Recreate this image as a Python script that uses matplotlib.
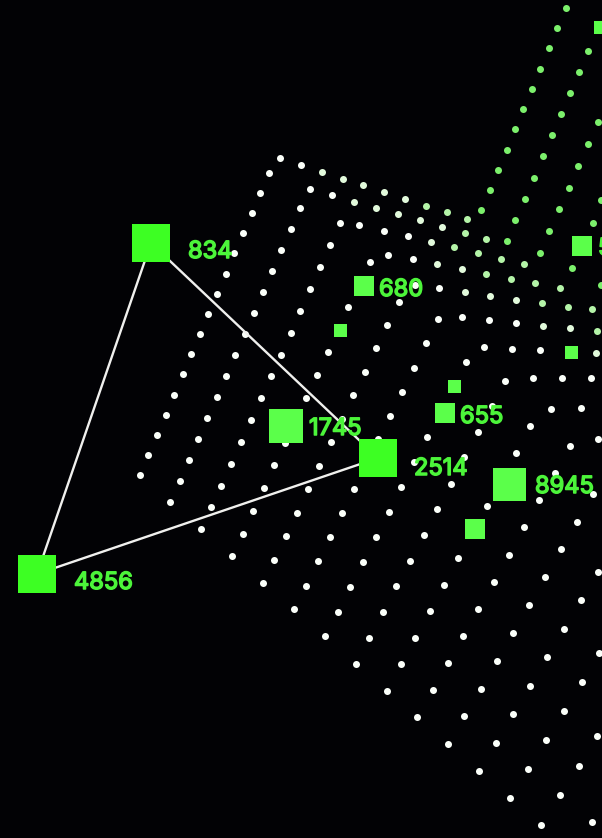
import matplotlib
matplotlib.use('Agg')
import matplotlib.pyplot as plt
import matplotlib.patheffects as pe

# node ids, positions and sizes (image pixels)
bright_x = [151, 37, 378]
bright_y = [243, 574, 458]
bright_side = [38, 38, 38]
soft_x = [286, 509.5, 364, 445, 582, 475, 454.5, 340.5, 571.5, 600.5]
soft_y = [425.5, 484.5, 286, 413, 246, 529, 386.5, 330.5, 352.5, 27.5]
soft_side = [34, 33, 20, 20, 20, 20, 13, 13, 13, 13]

edge_from = [0, 1, 2]
edge_to = [1, 2, 0]

label_text = ['834', '4856', '2514', '1745', '8945', '680', '655', '5']
label_x = [188, 74, 414, 309, 535, 379, 460, 598]
label_y = [252, 583, 469, 429, 487, 290, 417, 249]

green_x = [566, 557, 549, 540, 532, 523, 515, 507, 498, 490, 588, 579, 570, 561, 552, 543, 534, 525,
           598, 588, 578, 569, 559, 549, 601, 593, 481, 515, 507, 540, 572, 601]
green_y = [8, 28, 48, 69, 89, 109, 129, 150, 170, 190, 51, 72, 93, 114, 135, 156, 178, 199,
           122, 144, 166, 188, 209, 231, 200, 223, 210, 220, 241, 253, 268, 285]
mint_x = [467, 447, 426, 465, 486, 454, 478, 501, 524, 511, 535, 560, 486, 568, 592, 542, 597]
mint_y = [219, 212, 206, 233, 239, 247, 253, 259, 264, 279, 283, 288, 274, 307, 309, 303, 331]
pale_x = [405, 384, 363, 343, 322, 398, 420, 442, 431, 354, 376, 462, 437, 490, 516, 465, 570, 543, 596]
pale_y = [199, 192, 185, 179, 172, 214, 220, 227, 242, 202, 208, 269, 264, 296, 300, 292, 328, 326, 353]
white_x = [280, 301, 269, 310, 332, 260, 300, 340, 359, 252, 291, 330, 243, 281, 320, 234, 272, 310, 348,
           226, 263, 300, 217, 254, 291, 328, 208, 245, 281, 317, 200, 235, 271, 191, 226, 183,
           174, 217, 261, 306, 353, 166, 207, 251, 285, 342, 157, 198, 241, 331,
           148, 189, 231, 274, 319, 140, 180, 221, 264, 308, 354,
           170, 211, 253, 297, 342, 201, 243, 286, 330, 232, 274, 318, 263, 306, 350, 294, 338,
           414, 464, 555, 401, 451, 593, 389, 437, 487, 539, 376, 424, 524, 577,
           363, 410, 458, 509, 561, 396, 444, 494, 545, 598, 383, 430, 478, 529, 581,
           369, 415, 463, 513, 564, 325,
           356, 401, 448, 497, 547, 599, 387, 433, 481, 530, 582, 417, 464, 513, 564,
           448, 496, 546, 597, 479, 528, 579, 510, 560, 541, 592,
           384, 408, 370, 388, 413, 399, 415, 439, 387, 438, 462, 489, 516,
           376, 426, 484, 512, 540, 365, 414, 466, 505, 533, 562, 591,
           402, 390, 492, 551, 581, 427, 478, 530, 570, 598, 378, 516]
white_y = [158, 165, 173, 189, 195, 193, 208, 223, 225, 213, 229, 245, 233, 250, 267, 253, 271, 289, 307,
           274, 292, 311, 294, 313, 333, 352, 314, 334, 355, 375, 334, 355, 376, 354, 376, 374,
           395, 397, 398, 398, 395, 415, 418, 420, 443, 419, 435, 439, 442, 442,
           455, 460, 464, 465, 466, 475, 481, 486, 488, 489, 489,
           502, 507, 511, 513, 513, 529, 534, 536, 537, 556, 560, 561, 583, 586, 587, 609, 612,
           462, 457, 473, 487, 484, 494, 512, 509, 506, 500, 537, 535, 527, 522,
           562, 561, 558, 555, 549, 586, 585, 582, 577, 572, 612, 611, 609, 605, 600,
           638, 638, 636, 633, 629, 636,
           664, 664, 663, 661, 657, 653, 691, 690, 689, 686, 682, 717, 716, 714, 711,
           744, 743, 740, 736, 771, 769, 766, 798, 795, 825, 822,
           231, 236, 262, 255, 259, 302, 285, 288, 325, 319, 317, 320, 323,
           348, 343, 347, 349, 350, 372, 368, 362, 381, 378, 378, 378,
           392, 416, 406, 409, 408, 437, 432, 426, 446, 439, 439, 453]

BACKGROUND = '#020205'
BRIGHT = '#3dff23'
SOFT = '#5bff4a'
DPI = 100


def side_to_area(side):
    # scatter wants points squared, the sides above are pixels
    return (side * 72 / DPI) ** 2


fig = plt.figure(figsize=(6.02, 8.38), dpi=DPI, facecolor=BACKGROUND)
ax = fig.add_axes([0, 0, 1, 1])
ax.set_facecolor(BACKGROUND)
ax.set_xlim(0, 602)
ax.set_ylim(838, 0)
ax.axis('off')

dot_area = side_to_area(7)
ax.scatter(white_x, white_y, s=dot_area, c='#fbfffa', linewidths=0, zorder=1)
ax.scatter(pale_x, pale_y, s=dot_area, c='#e2fadc', linewidths=0, zorder=1)
ax.scatter(mint_x, mint_y, s=dot_area, c='#b4f4a8', linewidths=0, zorder=1)
ax.scatter(green_x, green_y, s=dot_area, c='#7cf06c', linewidths=0, zorder=1)

for a, b in zip(edge_from, edge_to):
    ax.plot([bright_x[a], bright_x[b]], [bright_y[a], bright_y[b]],
            color='#f0f0ee', linewidth=1.7, zorder=2)

ax.scatter(soft_x, soft_y, s=[side_to_area(v) for v in soft_side], c=SOFT,
           marker='s', linewidths=0, zorder=3)
ax.scatter(bright_x, bright_y, s=[side_to_area(v) for v in bright_side], c=BRIGHT,
           marker='s', linewidths=0, zorder=3)

# the installed Inter renders thin, a small stroke brings it up to the reference weight
for text, x, y in zip(label_text, label_x, label_y):
    ax.text(x, y, text, color='#4cf53a', fontsize=17, fontfamily=['Inter', 'DejaVu Sans'],
            ha='left', va='center', zorder=4,
            path_effects=[pe.withStroke(linewidth=1.1, foreground='#4cf53a')])

fig.savefig('out.png', dpi=DPI, facecolor=BACKGROUND)
